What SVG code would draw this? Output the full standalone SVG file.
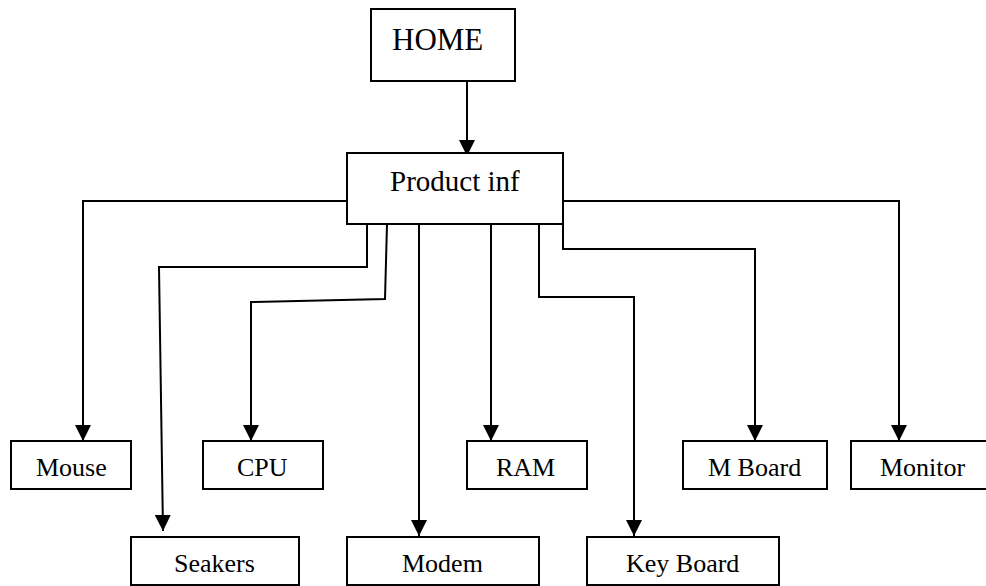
<svg xmlns="http://www.w3.org/2000/svg" width="986" height="586" viewBox="0 0 986 586">
<style>
.box{fill:#fff;stroke:#000;stroke-width:2}
.lbl{font-family:"Liberation Serif","Times New Roman",serif;font-size:26px;fill:#000}
.conn{fill:none;stroke:#000;stroke-width:2}
</style>
<defs>
<marker id="ah" markerUnits="userSpaceOnUse" markerWidth="16" markerHeight="16" refX="15" refY="7.5" orient="auto" viewBox="0 0 15 15">
<path d="M0,0 L15,7.5 L0,15 z" fill="#000"/>
</marker>
</defs>
<rect width="986" height="586" fill="#fff"/>
<g id="connectors">
<path class="conn" d="M467,81 V156" marker-end="url(#ah)"/>
<path class="conn" d="M347,201 H83 V441" marker-end="url(#ah)"/>
<path class="conn" d="M367,224 V267 H159 L163,531" marker-end="url(#ah)"/>
<path class="conn" d="M387,224 L385,299 L251,302 V441" marker-end="url(#ah)"/>
<path class="conn" d="M419,224 V536" marker-end="url(#ah)"/>
<path class="conn" d="M491,224 V441" marker-end="url(#ah)"/>
<path class="conn" d="M539,224 V297 H634 V536" marker-end="url(#ah)"/>
<path class="conn" d="M563,224 V249 H755 V441" marker-end="url(#ah)"/>
<path class="conn" d="M563,201 H899 V441" marker-end="url(#ah)"/>
</g>
<g id="home">
<rect class="box" x="371" y="9" width="144" height="72"/>
<text class="lbl" x="392" y="50" style="font-size:31px">HOME</text>
</g>
<g id="product">
<rect class="box" x="347" y="153" width="216" height="71"/>
<text class="lbl" x="390" y="191" style="font-size:29px">Product inf</text>
</g>
<g id="mouse">
<rect class="box" x="11" y="441" width="120" height="48"/>
<text class="lbl" x="36" y="476">Mouse</text>
</g>
<g id="cpu">
<rect class="box" x="203" y="441" width="120" height="48"/>
<text class="lbl" x="237" y="476">CPU</text>
</g>
<g id="ram">
<rect class="box" x="467" y="441" width="120" height="48"/>
<text class="lbl" x="496" y="476">RAM</text>
</g>
<g id="mboard">
<rect class="box" x="683" y="441" width="144" height="48"/>
<text class="lbl" x="708" y="476">M Board</text>
</g>
<g id="monitor">
<rect class="box" x="851" y="441" width="144" height="48"/>
<text class="lbl" x="880" y="476">Monitor</text>
</g>
<g id="seakers">
<rect class="box" x="131" y="537" width="168" height="48"/>
<text class="lbl" x="174" y="572">Seakers</text>
</g>
<g id="modem">
<rect class="box" x="347" y="537" width="192" height="48"/>
<text class="lbl" x="402" y="572">Modem</text>
</g>
<g id="keyboard">
<rect class="box" x="587" y="537" width="192" height="48"/>
<text class="lbl" x="626" y="572">Key Board</text>
</g>
</svg>
